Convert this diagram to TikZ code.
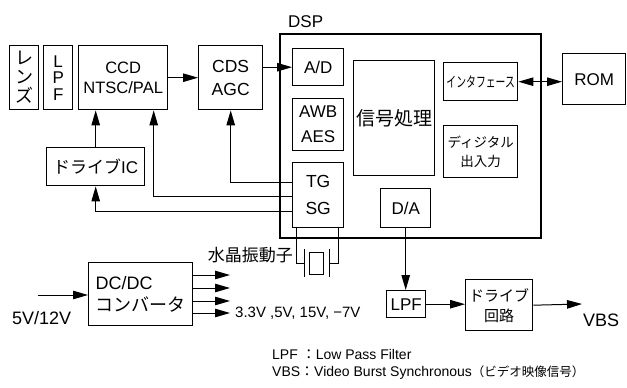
\documentclass[tikz,border=0pt]{standalone}
\usepackage{fontspec}
\setmainfont{Liberation Sans}
\newfontfamily\jp{Noto Sans CJK JP}
\usetikzlibrary{arrows.meta}
\begin{document}
\begin{tikzpicture}[x=1pt,y=-1pt,
 blk/.style={draw, line width=1.4pt, inner sep=0pt, align=center, anchor=north west, font=\fontsize{17}{21}\selectfont},
 con/.style={line width=1pt},
 arr/.style={con, -{Triangle[length=15pt,width=8.5pt]}},
 dbl/.style={con, {Triangle[length=15pt,width=8.5pt]}-{Triangle[length=15pt,width=8.5pt]}},
 lbl/.style={inner sep=0pt, font=\fontsize{17}{21}\selectfont}
]
\useasboundingbox (0,0) rectangle (627,388);
% left chain
\node[blk, minimum width=29pt, minimum height=64pt, font=\jp\fontsize{18}{19}\selectfont] (lens) at (9,45) {レ\\ン\\ズ};
\node[blk, minimum width=29pt, minimum height=64pt, font=\fontsize{17}{16.5}\selectfont] (lpfa) at (43,45) {L\\P\\F};
\node[blk, minimum width=89pt, minimum height=64pt, font=\fontsize{16.5}{20}\selectfont] (ccd) at (78,45) {CCD\\NTSC/PAL};
\node[blk, minimum width=64pt, minimum height=64pt, font=\fontsize{17.5}{23}\selectfont] (cds) at (198,45) {CDS\\AGC};
\node[blk, minimum width=98pt, minimum height=38pt] (drvic) at (46,147) {{\jp ドライブ}IC};
% DSP
\node[blk, line width=1.6pt, minimum width=261pt, minimum height=204pt] (dsp) at (279,33) {};
\node[lbl, anchor=west] (dsplbl) at (288,22) {DSP};
\node[blk, minimum width=51pt, minimum height=37pt] (ad) at (292,48) {A/D};
\node[blk, minimum width=51pt, minimum height=52pt, font=\fontsize{17}{25}\selectfont] (awb) at (292,98) {AWB\\AES};
\node[blk, minimum width=51pt, minimum height=65pt, font=\fontsize{17.5}{27}\selectfont] (tgsg) at (292,162) {TG\\SG};
\node[blk, minimum width=81pt, minimum height=115pt, font=\jp\fontsize{19}{22}\selectfont] (sig) at (353,60) {信号処理};
\node[blk, minimum width=74pt, minimum height=38pt] (intf) at (443,62) {\jp\fontsize{14.5}{16}\selectfont\scalebox{0.68}[1]{インタフェース}};
\node[blk, minimum width=74pt, minimum height=52pt, font=\jp\fontsize{13.5}{19}\selectfont] (dio) at (443,125) {ディジタル\\出入力};
\node[blk, minimum width=50pt, minimum height=39pt] (da) at (380,188) {D/A};
\node[blk, minimum width=63pt, minimum height=51pt] (rom) at (562,53) {ROM};
% lower chain
\node[blk, minimum width=104pt, minimum height=63pt, align=left, font=\fontsize{18}{22}\selectfont] (dcdc) at (88,262) {DC/DC\\{\jp コンバータ}};
\node[blk, minimum width=39pt, minimum height=27pt] (lpfb) at (386,290) {LPF};
\node[blk, minimum width=67pt, minimum height=51pt, font=\jp\fontsize{15}{20}\selectfont] (drv) at (465,279) {ドライブ\\回路};
% labels
\node[lbl, anchor=west, font=\fontsize{18}{21}\selectfont] (vbs) at (583,320) {VBS};
\node[lbl, anchor=west, font=\fontsize{18}{21}\selectfont] (vin12) at (12,318) {5V/12V};
\node[lbl, anchor=west, font=\fontsize{15}{18}\selectfont] (volts) at (235,313) {3.3V ,5V, 15V, −7V};
\node[lbl, anchor=east, font=\jp\fontsize{17}{20}\selectfont] (xlbl) at (293,255) {水晶振動子};
\node[lbl, anchor=west, font=\fontsize{14}{17}\selectfont] (leg1) at (272,354) {LPF {\jp ：}Low Pass Filter};
\node[lbl, anchor=west, font=\fontsize{14}{17}\selectfont] (leg2) at (272,373) {VBS{\jp ：}Video Burst Synchronous{\jp\fontsize{12.5}{15}\selectfont （ビデオ映像信号）}};
% coordinates
\coordinate (vout) at (582,304);
\coordinate (vinstart) at (38,295);
\coordinate (o1) at (230,275);
\coordinate (o2) at (230,288);
\coordinate (o3) at (230,301);
\coordinate (o4) at (230,313);
\coordinate (xl) at (304,263);
\coordinate (xr) at (329,263);
% connectors
\draw[arr] (ccd.east) -- (cds.west);
\draw[arr] (cds.east |- ad.west) -- (ad.west);
\draw[dbl] (intf.east) -- (rom.west |- intf.east);
\draw[arr] (drvic.north) -- (ccd.south -| drvic.north);
\draw[arr] ([yshift=12.5pt]tgsg.west) -| (cds.south);
\draw[arr] ([yshift=-1.5pt]tgsg.west) -| ([xshift=30.5pt]ccd.south);
\draw[arr] ([yshift=-16.5pt]tgsg.west) -| (drvic.south);
\draw[arr] (da.south) -- (lpfb.north -| da.south);
\draw[arr] (lpfb.east) -- (drv.west |- lpfb.east);
\draw[arr] (drv.east) -- (vout);
\draw[arr] (vinstart) -- (dcdc.west |- vinstart);
\foreach \o in {o1,o2,o3,o4} \draw[arr] (dcdc.east |- \o) -- (\o);
% crystal
\draw[con] ([xshift=-21.5pt]tgsg.south) |- (xl);
\draw[con] ([xshift=20.5pt]tgsg.south) |- (xr);
\draw[con] (304,249) -- (304,277);
\draw[con] (329,249) -- (329,277);
\draw[con] (309,252) rectangle (323,274);
\end{tikzpicture}
\end{document}
